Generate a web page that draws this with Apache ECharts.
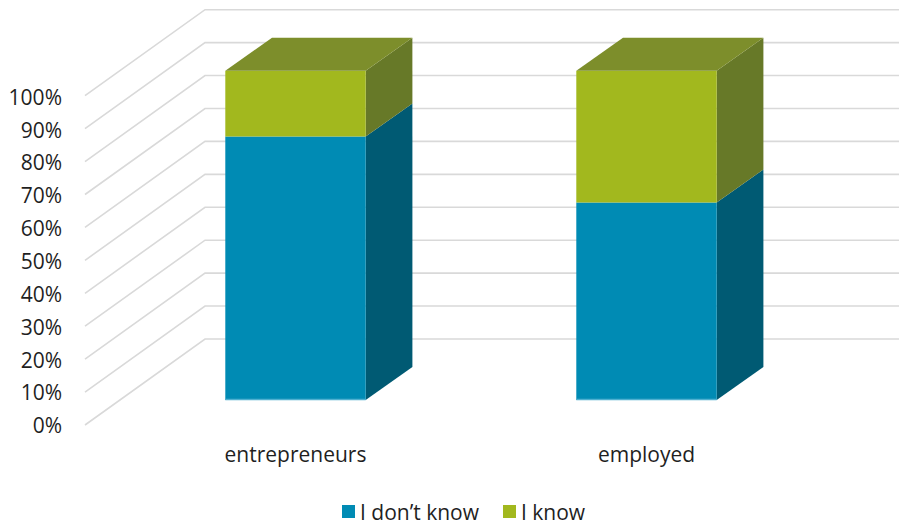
<!DOCTYPE html>
<html>
<head>
<meta charset="utf-8">
<title>Awareness by employment status</title>
<script src="https://cdn.jsdelivr.net/npm/echarts@6/dist/echarts.min.js"></script>
<style>
  html, body { margin: 0; padding: 0; background: #ffffff; }
  #chart { width: 899px; height: 525px; }
</style>
</head>
<body>
<div id="chart"></div>
<script>
// Categories and stacked shares (percent)
const categories = ['entrepreneurs', 'employed'];
const dontKnow = [80, 60];
const know = [20, 40];
const seriesNames = ['I don\u2019t know', 'I know'];
const tickValues = [0, 10, 20, 30, 40, 50, 60, 70, 80, 90, 100];

// Oblique projection: offsets from the bar front plane
const WALL_FRONT = [-35, 25];   // front edge of the side wall
const WALL_BACK = [85, -61];    // back wall plane
const BAR_DEPTH = [46.7, -33];  // depth of each bar

const FONT = '"Open Sans", "Liberation Sans", sans-serif';
const TEXT = '#1f1f1f';
const FONT_SIZE = 21;

const palette = {
  blue: { front: '#008BB4', side: '#005A73', top: '#00739A' },
  green: { front: '#A2B81E', side: '#677928', top: '#7D8E2B' }
};

// Build stacked [category, base, top] rows
const lowRows = categories.map((c, i) => [i, 0, dontKnow[i]]);
const highRows = categories.map((c, i) => [i, dontKnow[i], dontKnow[i] + know[i]]);

function barRenderer(col, drawTop) {
  return function (params, api) {
    const cat = api.value(0);
    const lo = api.coord([cat, api.value(1)]);
    const hi = api.coord([cat, api.value(2)]);
    const band = api.size([1, 0])[0];
    const w = band * 0.4;
    const x0 = lo[0] - w / 2, x1 = lo[0] + w / 2;
    const yLo = lo[1], yHi = hi[1];
    const [dx, dy] = BAR_DEPTH;
    const children = [
      {
        type: 'polygon',
        shape: { points: [[x1, yLo], [x1 + dx, yLo + dy], [x1 + dx, yHi + dy], [x1, yHi]] },
        style: { fill: col.side }
      },
      {
        type: 'rect',
        shape: { x: x0, y: yHi, width: w, height: yLo - yHi },
        style: { fill: col.front }
      }
    ];
    if (drawTop) {
      children.push({
        type: 'polygon',
        shape: { points: [[x0, yHi], [x0 + dx, yHi + dy], [x1 + dx, yHi + dy], [x1, yHi]] },
        style: { fill: col.top }
      });
    }
    if (api.value(1) === 0) {
      children.push({
        type: 'line',
        shape: { x1: x0, y1: yLo - 0.5, x2: x1, y2: yLo - 0.5 },
        style: { stroke: '#4FB0D0', lineWidth: 1.5 }
      });
    }
    return { type: 'group', children: children };
  };
}

function wallRenderer(params, api) {
  const p = api.coord([0, api.value(1)]);
  const gx = params.coordSys.x;
  const y = p[1];
  return {
    type: 'polyline',
    shape: {
      points: [
        [gx + WALL_FRONT[0], y + WALL_FRONT[1]],
        [gx + WALL_BACK[0], y + WALL_BACK[1]],
        [api.getWidth(), y + WALL_BACK[1]]
      ]
    },
    style: { stroke: '#D9D9D9', lineWidth: 1.6, fill: null }
  };
}

const chart = echarts.init(document.getElementById('chart'), null, { renderer: 'svg' });

chart.setOption({
  backgroundColor: '#ffffff',
  animation: false,
  textStyle: { fontFamily: FONT },
  legend: {
    data: seriesNames,
    left: 337,
    top: 496,
    icon: 'rect',
    itemWidth: 13,
    itemHeight: 13,
    itemGap: 24,
    textStyle: { fontSize: FONT_SIZE, color: TEXT, fontFamily: FONT }
  },
  grid: [
    // bar front plane
    { left: 120, top: 70.7, width: 702, height: 329.3 },
    // front edge of the side wall, carries the percent labels
    { left: 85, top: 96.7, width: 10, height: 328.5 }
  ],
  xAxis: [
    {
      type: 'category',
      gridIndex: 0,
      data: categories,
      axisLine: { show: false },
      axisTick: { show: false },
      axisLabel: { fontSize: FONT_SIZE, color: TEXT, margin: 43, fontFamily: FONT }
    },
    { type: 'value', gridIndex: 1, show: false }
  ],
  yAxis: [
    {
      type: 'value', gridIndex: 0, min: 0, max: 100, interval: 10,
      show: false, splitLine: { show: false }
    },
    {
      type: 'value', gridIndex: 1, min: 0, max: 100, interval: 10,
      axisLine: { show: false },
      axisTick: { show: false },
      splitLine: { show: false },
      axisLabel: { formatter: '{value}%', fontSize: FONT_SIZE, color: TEXT, margin: 23, fontFamily: FONT }
    }
  ],
  series: [
    {
      type: 'custom',
      name: 'walls',
      xAxisIndex: 0, yAxisIndex: 0,
      silent: true,
      z: 1,
      data: tickValues.map(v => [0, v]),
      encode: { x: 0, y: 1 },
      renderItem: wallRenderer
    },
    {
      type: 'custom',
      name: seriesNames[0],
      xAxisIndex: 0, yAxisIndex: 0,
      z: 2,
      itemStyle: { color: palette.blue.front },
      data: lowRows,
      encode: { x: 0, y: [1, 2] },
      renderItem: barRenderer(palette.blue, false)
    },
    {
      type: 'custom',
      name: seriesNames[1],
      xAxisIndex: 0, yAxisIndex: 0,
      z: 3,
      itemStyle: { color: palette.green.front },
      data: highRows,
      encode: { x: 0, y: [1, 2] },
      renderItem: barRenderer(palette.green, true)
    }
  ]
});
</script>
</body>
</html>
